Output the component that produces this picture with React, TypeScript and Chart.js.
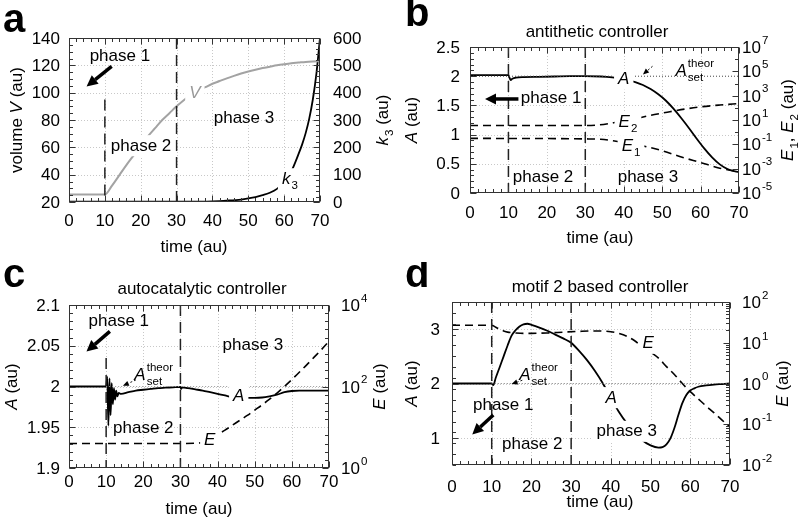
import React, { useEffect, useRef } from 'react';
import { Chart, registerables } from 'chart.js';

Chart.register(...registerables);

const FONT_FAMILY = '"Liberation Sans", Arial, Helvetica, sans-serif';
const FS = 17;

// ---------------- shared ----------------
const xTickValues = [0, 10, 20, 30, 40, 50, 60, 70];
const phaseTimes = [10, 30];

// ---------------- panel a ----------------
const aLeftTicks = [20, 40, 60, 80, 100, 120, 140];
const aRightTicks = [0, 100, 200, 300, 400, 500, 600];
const aTimeV = [0, 10, 12, 14, 16, 18, 20, 22, 24, 26, 28, 30, 32, 34, 36, 38, 40, 42, 44, 46, 48, 50, 52, 54, 56, 58, 60, 62, 64, 66, 68, 70];
const aVolume = [25.5, 25.5, 32, 39.5, 47, 54, 61, 68, 74, 80, 85, 90, 94.5, 98.5, 101.5, 104, 106.5, 108.5, 110.5, 112.3, 114, 115.5, 116.8, 118, 119, 120, 120.8, 121.5, 122, 122.5, 122.8, 123];
const aTimeK3 = [0, 10, 20, 30, 36, 40, 44, 48, 50, 52, 54, 56, 58, 60, 62, 64, 65, 66, 67, 68, 69, 70];
const aK3 = [1, 1, 1, 1, 1.5, 2.5, 5, 9, 13, 18, 25, 34, 48, 72, 112, 175, 210, 252, 305, 375, 470, 600];

// ---------------- panel b ----------------
const bLeftTicks = [0, 0.5, 1, 1.5, 2, 2.5];
const bRightExps = [-5, -3, -1, 1, 3, 5, 7];
const bTimeA = [0, 10, 10.3, 10.6, 11, 12, 14, 18, 22, 26, 30, 34, 37, 40, 43, 45, 47, 49, 51, 53, 55, 57, 59, 61, 63, 65, 67, 69, 70];
const bA = [2.02, 2.02, 1.97, 1.935, 1.955, 1.975, 1.985, 1.99, 1.995, 2.0, 2.0, 1.995, 1.98, 1.95, 1.9, 1.85, 1.78, 1.69, 1.58, 1.44, 1.28, 1.11, 0.93, 0.76, 0.61, 0.49, 0.41, 0.37, 0.36];
const bTimeE2 = [0, 30, 33, 36, 38, 40, 44, 48, 52, 56, 60, 65, 70];
const bE2 = [3.5, 3.5, 3.8, 5.0, 6.5, 8.5, 15, 28, 48, 80, 120, 170, 224];
const bTimeE1 = [0, 30, 34, 38, 42, 46, 50, 55, 60, 65, 70];
const bE1 = [0.31, 0.28, 0.26, 0.18, 0.11, 0.063, 0.03, 0.0091, 0.0032, 0.0011, 0.00054];
const bTimeSet = [0, 70];
const bSet = [2, 2];

// ---------------- panel c ----------------
const cLeftTicks = [1.9, 1.95, 2, 2.05, 2.1];
const cRightExps = [0, 2, 4];
const cTimeA = [0, 10, 10.3, 10.6, 10.9, 11.2, 11.5, 11.8, 12.1, 12.4, 12.7, 13, 13.4, 14, 16, 18, 20, 22, 24, 26, 28, 30, 30.2, 30.4, 32, 34, 36, 38, 40, 42, 44, 46, 48, 50, 52, 54, 56, 58, 60, 62, 66, 70];
const cA = [2.0, 2.0, 2.012, 1.952, 2.01, 1.965, 2.004, 1.978, 1.998, 1.984, 1.995, 1.988, 1.992, 1.991, 1.993, 1.995, 1.996, 1.997, 1.998, 1.9985, 1.999, 1.9995, 1.997, 1.999, 1.998, 1.9965, 1.995, 1.993, 1.991, 1.989, 1.987, 1.986, 1.986, 1.986, 1.9865, 1.988, 1.99, 1.993, 1.9945, 1.995, 1.995, 1.995];
const cTimeE = [0, 10, 30, 36, 38, 40, 42, 44, 46, 48, 50, 52, 54, 56, 58, 60, 62, 64, 66, 68, 70];
const cE = [4.0, 4.0, 4.0, 4.2, 4.8, 6.6, 8.5, 11.2, 14.8, 19.5, 26.3, 35.5, 49, 69, 100, 148, 224, 339, 525, 813, 1288];
const cTimeSet = [10, 70];
const cSet = [2, 2];

// ---------------- panel d ----------------
const dLeftTicks = [1, 2, 3];
const dRightExps = [-2, -1, 0, 1, 2];
const dTimeA = [0, 10, 10.4, 11, 12, 13, 14, 15, 16, 17, 18, 19, 20, 22, 24, 26, 28, 30, 32, 34, 36, 38, 40, 42, 44, 46, 48, 50, 52, 53, 54, 55, 56, 57, 58, 59, 60, 61, 62, 64, 66, 68, 70];
const dA = [2.0, 2.0, 1.97, 2.1, 2.3, 2.5, 2.7, 2.88, 2.98, 3.05, 3.09, 3.1, 3.08, 3.03, 2.97, 2.9, 2.83, 2.75, 2.6, 2.43, 2.23, 2.0, 1.73, 1.48, 1.27, 1.1, 0.95, 0.86, 0.82, 0.83, 0.88, 0.99, 1.18, 1.42, 1.64, 1.79, 1.87, 1.91, 1.94, 1.965, 1.98, 1.99, 2.0];
const dTimeE = [0, 10, 11, 12, 13, 14, 16, 18, 20, 24, 28, 32, 36, 40, 42, 44, 46, 48, 50, 52, 54, 56, 58, 60, 62, 64, 66, 68, 70];
const dE = [26.9, 26.9, 24, 21.4, 19.5, 18.2, 17.4, 17, 17, 17.4, 18.2, 19, 19.5, 18.6, 17, 14.5, 11.2, 7.9, 5.9, 4.2, 2.6, 1.66, 1.0, 0.63, 0.42, 0.28, 0.19, 0.126, 0.085];
const dTimeSet = [10, 70];
const dSet = [2, 2];

// ---------------- types & helpers ----------------
type Seg = { t: string; it?: boolean; sub?: boolean; sup?: boolean; stack?: boolean };
type Label = { x: number; y: number; segs: Seg[]; color?: string; bg?: boolean };
type Arrow = { x1: number; y1: number; x2: number; y2: number; thin?: boolean };
type AxisCfg = {
  type: 'linear' | 'logarithmic';
  min: number;
  max: number;
  ticks: number[];
  minor: number[];
  exps?: number[];
};
type PanelCfg = {
  id: string;
  left: number;
  top: number;
  w: number;
  h: number;
  area: { l: number; r: number; t: number; b: number };
  letter: { t: string; x: number; y: number };
  title?: { t: string; x: number; y: number };
  yL: AxisCfg;
  yR: AxisCfg;
  yLTitle: Seg[];
  yRTitle: Seg[];
  tpos: { lx: number; rx: number; xy: number; xx: number };
  toff: { x: number; l: number; r: number };
  phaseTops: number[];
  datasets: any[];
  labels: Label[];
  arrows: Arrow[];
};

function fnt(size: number, italic?: boolean, bold?: boolean) {
  return `${italic ? 'italic ' : ''}${bold ? 'bold ' : ''}${size}px ${FONT_FAMILY}`;
}

function linSteps(min: number, max: number, step: number) {
  const out: number[] = [];
  const n = Math.round((max - min) / step);
  for (let i = 0; i <= n; i++) out.push(min + i * step);
  return out;
}
function logDecades(e0: number, e1: number) {
  const out: number[] = [];
  for (let e = e0; e <= e1; e++) out.push(Math.pow(10, e));
  return out;
}
function logUniform(e0: number, e1: number, n: number) {
  const out: number[] = [];
  for (let e = e0; e < e1; e++) for (let j = 1; j < n; j++) out.push(Math.pow(10, e + j / n));
  return out;
}
function log29(e0: number, e1: number) {
  const out: number[] = [];
  for (let e = e0; e < e1; e++) for (let m = 2; m <= 9; m++) out.push(m * Math.pow(10, e));
  return out;
}

function layoutRich(ctx: CanvasRenderingContext2D, segs: Seg[], size: number) {
  const small = size * 0.68;
  let w = 0;
  let lastStart = 0;
  const items: { s: Seg; fs: number; sx: number }[] = [];
  for (const s of segs) {
    const fs = s.sub || s.sup ? small : size;
    ctx.font = fnt(fs, s.it);
    const mw = ctx.measureText(s.t).width;
    let sx: number;
    if (s.stack) {
      sx = lastStart;
      w = Math.max(w, lastStart + mw);
    } else {
      sx = w + (s.sub || s.sup ? 1 : 0);
      w = sx + mw;
    }
    lastStart = sx;
    items.push({ s, fs, sx });
  }
  return { w, items };
}

function drawRich(
  ctx: CanvasRenderingContext2D,
  segs: Seg[],
  x: number,
  y: number,
  size: number,
  align: 'left' | 'center' | 'right',
  color: string,
  bg?: boolean
) {
  const lay = layoutRich(ctx, segs, size);
  const x0 = align === 'left' ? x : align === 'right' ? x - lay.w : x - lay.w / 2;
  const base = y + size * 0.3;
  if (bg) {
    const hasSub = segs.some((s) => s.sub);
    ctx.fillStyle = '#fff';
    ctx.fillRect(x0 - 4, y - size * 0.62, lay.w + 8, size * 1.24 + (hasSub ? 3 : 0));
  }
  ctx.textAlign = 'left';
  ctx.textBaseline = 'alphabetic';
  ctx.fillStyle = color;
  for (const it of lay.items) {
    ctx.font = fnt(it.fs, it.s.it);
    let by = base;
    if (it.s.sub) by = base + size * 0.28;
    if (it.s.sup) by = base - size * 0.55;
    ctx.fillText(it.s.t, x0 + it.sx, by);
  }
  return lay.w;
}

function drawArrow(ctx: CanvasRenderingContext2D, x1: number, y1: number, x2: number, y2: number, thin?: boolean) {
  const ang = Math.atan2(y2 - y1, x2 - x1);
  const hl = thin ? 6 : 11;
  const hw = thin ? 2.6 : 5.5;
  const bx = x2 - hl * Math.cos(ang);
  const by = y2 - hl * Math.sin(ang);
  ctx.save();
  ctx.strokeStyle = '#000';
  ctx.fillStyle = '#000';
  ctx.lineWidth = thin ? 0.9 : 3.5;
  ctx.setLineDash(thin ? [2, 2] : []);
  ctx.beginPath();
  ctx.moveTo(x1, y1);
  ctx.lineTo(bx, by);
  ctx.stroke();
  ctx.setLineDash([]);
  ctx.beginPath();
  ctx.moveTo(x2, y2);
  ctx.lineTo(bx + hw * Math.sin(ang), by - hw * Math.cos(ang));
  ctx.lineTo(bx - hw * Math.sin(ang), by + hw * Math.cos(ang));
  ctx.closePath();
  ctx.fill();
  ctx.restore();
}

const pts = (xs: number[], ys: number[]) => xs.map((x, i) => ({ x, y: ys[i] }));

const solid = (xs: number[], ys: number[], axis: string, color = '#000', width = 1.8) => ({
  data: pts(xs, ys),
  borderColor: color,
  borderWidth: width,
  pointRadius: 0,
  fill: false,
  cubicInterpolationMode: 'monotone',
  yAxisID: axis,
});
const dashed = (xs: number[], ys: number[], axis: string) => ({
  ...solid(xs, ys, axis),
  borderWidth: 1.6,
  borderDash: [8, 5],
});
const dotted = (xs: number[], ys: number[], color: string) => ({
  data: pts(xs, ys),
  borderColor: color,
  borderWidth: 1,
  borderDash: [1, 2],
  pointRadius: 0,
  fill: false,
  yAxisID: 'y',
});

const setA: Seg[] = [{ t: 'A', it: true }, { t: 'theor', sup: true }, { t: 'set', sub: true, stack: true }];
const ph = (t: string): Seg[] => [{ t }];

// ---------------- panels ----------------
const panels: PanelCfg[] = [
  {
    id: 'a', left: 0, top: 0, w: 400, h: 262,
    area: { l: 69, r: 320, t: 38, b: 202 },
    letter: { t: 'a', x: 3, y: 32 },
    yL: { type: 'linear', min: 20, max: 140, ticks: aLeftTicks, minor: linSteps(20, 140, 5) },
    yR: { type: 'linear', min: 0, max: 600, ticks: aRightTicks, minor: linSteps(0, 600, 20) },
    yLTitle: [{ t: 'volume ' }, { t: 'V', it: true }, { t: ' (au)' }],
    yRTitle: [{ t: 'k', it: true }, { t: '3', sub: true }, { t: ' (au)' }],
    tpos: { lx: 17, rx: 383, xy: 247, xx: 194 },
    toff: { x: 19, l: 9, r: 13 },
    phaseTops: [95, 140],
    datasets: [solid(aTimeV, aVolume, 'y', '#a3a3a3', 2), solid(aTimeK3, aK3, 'y2')],
    labels: [
      { x: 14.2, y: 127, segs: ph('phase 1') },
      { x: 20.1, y: 61.2, segs: ph('phase 2'), bg: true },
      { x: 48.8, y: 81.7, segs: ph('phase 3') },
      { x: 35.1, y: 99.6, segs: [{ t: 'V', it: true }], color: '#999', bg: true },
      { x: 61.6, y: 37, segs: [{ t: 'k', it: true }, { t: '3', sub: true }], bg: true },
    ],
    arrows: [{ x1: 11.9, y1: 119.2, x2: 4.9, y2: 104.6 }],
  },
  {
    id: 'b', left: 400, top: 0, w: 400, h: 262,
    area: { l: 70, r: 339, t: 47, b: 193 },
    letter: { t: 'b', x: 5, y: 26 },
    title: { t: 'antithetic controller', x: 197, y: 32 },
    yL: { type: 'linear', min: 0, max: 2.5, ticks: bLeftTicks, minor: linSteps(0, 2.5, 0.1) },
    yR: { type: 'logarithmic', min: 1e-5, max: 1e7, ticks: bRightExps.map((e) => Math.pow(10, e)), exps: bRightExps, minor: logDecades(-5, 7) },
    yLTitle: [{ t: 'A', it: true }, { t: ' (au)' }],
    yRTitle: [{ t: 'E', it: true }, { t: '1', sub: true }, { t: ', ' }, { t: 'E', it: true }, { t: '2', sub: true }, { t: ' (au)' }],
    tpos: { lx: 12, rx: 388, xy: 238, xx: 200 },
    toff: { x: 20, l: 10, r: 3 },
    phaseTops: [2.5, 2.5],
    datasets: [dotted(bTimeSet, bSet, '#555'), dashed(bTimeE2, bE2, 'y2'), dashed(bTimeE1, bE1, 'y2'), solid(bTimeA, bA, 'y')],
    labels: [
      { x: 21.1, y: 1.62, segs: ph('phase 1') },
      { x: 19.0, y: 0.28, segs: ph('phase 2') },
      { x: 46.3, y: 0.28, segs: ph('phase 3') },
      { x: 40, y: 1.95, segs: [{ t: 'A', it: true }], bg: true },
      { x: 41.1, y: 1.21, segs: [{ t: 'E', it: true }, { t: '2', sub: true }], bg: true },
      { x: 41.9, y: 0.8, segs: [{ t: 'E', it: true }, { t: '1', sub: true }], bg: true },
      { x: 58.5, y: 2.09, segs: setA },
    ],
    arrows: [
      { x1: 12.6, y1: 1.61, x2: 3.9, y2: 1.61 },
      { x1: 47.5, y1: 2.17, x2: 45, y2: 2.03, thin: true },
    ],
  },
  {
    id: 'c', left: 0, top: 262, w: 400, h: 263,
    area: { l: 69, r: 329, t: 43, b: 206 },
    letter: { t: 'c', x: 3, y: 25 },
    title: { t: 'autocatalytic controller', x: 202, y: 27 },
    yL: { type: 'linear', min: 1.9, max: 2.1, ticks: cLeftTicks, minor: linSteps(1.9, 2.1, 0.01) },
    yR: { type: 'logarithmic', min: 1, max: 1e4, ticks: cRightExps.map((e) => Math.pow(10, e)), exps: cRightExps, minor: logUniform(0, 4, 5) },
    yLTitle: [{ t: 'A', it: true }, { t: ' (au)' }],
    yRTitle: [{ t: 'E', it: true }, { t: ' (au)' }],
    tpos: { lx: 12, rx: 380, xy: 247, xx: 199 },
    toff: { x: 14, l: 9, r: 12 },
    phaseTops: [2.035, 2.1],
    datasets: [dotted(cTimeSet, cSet, '#999'), dashed(cTimeE, cE, 'y2'), solid(cTimeA, cA, 'y')],
    labels: [
      { x: 13.4, y: 2.08, segs: ph('phase 1') },
      { x: 20.0, y: 1.949, segs: ph('phase 2') },
      { x: 49.5, y: 2.051, segs: ph('phase 3') },
      { x: 45.7, y: 1.988, segs: [{ t: 'A', it: true }], bg: true },
      { x: 37.9, y: 1.934, segs: [{ t: 'E', it: true }], bg: true },
      { x: 22.8, y: 2.014, segs: setA },
    ],
    arrows: [
      { x1: 11.0, y1: 2.0676, x2: 4.7, y2: 2.043 },
      { x1: 18.0, y1: 2.008, x2: 14.5, y2: 2.001, thin: true },
    ],
  },
  {
    id: 'd', left: 400, top: 262, w: 400, h: 263,
    area: { l: 52, r: 330, t: 40, b: 203 },
    letter: { t: 'd', x: 5, y: 25 },
    title: { t: 'motif 2 based controller', x: 200, y: 25 },
    yL: { type: 'linear', min: 0.5, max: 3.5, ticks: dLeftTicks, minor: linSteps(0.5, 3.5, 0.2) },
    yR: { type: 'logarithmic', min: 0.01, max: 100, ticks: dRightExps.map((e) => Math.pow(10, e)), exps: dRightExps, minor: log29(-2, 2) },
    yLTitle: [{ t: 'A', it: true }, { t: ' (au)' }],
    yRTitle: [{ t: 'E', it: true }, { t: ' (au)' }],
    tpos: { lx: 12, rx: 383, xy: 240, xx: 200 },
    toff: { x: 22, l: 12, r: 12 },
    phaseTops: [3.5, 3.5],
    datasets: [dotted(dTimeSet, dSet, '#777'), dashed(dTimeE, dE, 'y2'), solid(dTimeA, dA, 'y')],
    labels: [
      { x: 12.9, y: 1.61, segs: ph('phase 1') },
      { x: 20.2, y: 0.89, segs: ph('phase 2') },
      { x: 44.0, y: 1.12, segs: ph('phase 3'), bg: true },
      { x: 40.1, y: 1.74, segs: [{ t: 'A', it: true }], bg: true },
      { x: 49.4, y: 2.74, segs: [{ t: 'E', it: true }], bg: true },
      { x: 21.8, y: 2.15, segs: setA },
    ],
    arrows: [
      { x1: 10.4, y1: 1.42, x2: 5.1, y2: 1.06 },
      { x1: 17.7, y1: 2.06, x2: 15, y2: 1.99, thin: true },
    ],
  },
];

function makeDeco(cfg: PanelCfg) {
  return {
    id: 'deco' + cfg.id,
    beforeDatasetsDraw(chart: any) {
      const { ctx, chartArea: a, scales } = chart;
      ctx.save();
      ctx.strokeStyle = '#c8c8c8';
      ctx.lineWidth = 1;
      ctx.setLineDash([1, 2]);
      ctx.beginPath();
      for (const v of xTickValues) {
        if (v <= 0 || v >= 70) continue;
        const px = Math.round(scales.x.getPixelForValue(v)) + 0.5;
        ctx.moveTo(px, a.top);
        ctx.lineTo(px, a.bottom);
      }
      for (const v of cfg.yL.ticks) {
        if (v <= cfg.yL.min + 1e-9 || v >= cfg.yL.max - 1e-9) continue;
        const py = Math.round(scales.y.getPixelForValue(v)) + 0.5;
        ctx.moveTo(a.left, py);
        ctx.lineTo(a.right, py);
      }
      ctx.stroke();
      ctx.restore();
    },
    afterDatasetsDraw(chart: any) {
      const { ctx, scales } = chart;
      const X = (v: number) => scales.x.getPixelForValue(v);
      const Y = (v: number) => scales.y.getPixelForValue(v);
      ctx.save();
      for (const lb of cfg.labels) {
        drawRich(ctx, lb.segs, X(lb.x), Y(lb.y), FS, 'center', lb.color || '#000', lb.bg);
      }
      for (const ar of cfg.arrows) drawArrow(ctx, X(ar.x1), Y(ar.y1), X(ar.x2), Y(ar.y2), ar.thin);
      ctx.restore();
    },
    afterDraw(chart: any) {
      const { ctx, chartArea: a, scales } = chart;
      const L = Math.round(a.left) + 0.5;
      const R = Math.round(a.right) - 0.5;
      const T = Math.round(a.top) + 0.5;
      const B = Math.round(a.bottom) - 0.5;
      ctx.save();
      ctx.strokeStyle = '#333';
      ctx.lineWidth = 1;
      ctx.setLineDash([]);
      ctx.strokeRect(L, T, R - L, B - T);
      // ticks
      ctx.beginPath();
      const xMinor = linSteps(0, 70, 2);
      for (const v of xMinor) {
        const px = Math.round(scales.x.getPixelForValue(v)) + 0.5;
        const len = v % 10 === 0 ? 6 : 3.5;
        ctx.moveTo(px, B);
        ctx.lineTo(px, B - len);
        ctx.moveTo(px, T);
        ctx.lineTo(px, T + len);
      }
      const tickY = (scale: any, vals: number[], len: number, side: 'l' | 'r') => {
        for (const v of vals) {
          if (v < scale.min * 0.999999 || v > scale.max * 1.000001 + 1e-12) continue;
          const py = Math.round(scale.getPixelForValue(v)) + 0.5;
          if (side === 'l') {
            ctx.moveTo(L, py);
            ctx.lineTo(L + len, py);
          } else {
            ctx.moveTo(R, py);
            ctx.lineTo(R - len, py);
          }
        }
      };
      tickY(scales.y, cfg.yL.minor, 3.5, 'l');
      tickY(scales.y, cfg.yL.ticks, 6, 'l');
      tickY(scales.y2, cfg.yR.minor, 3.5, 'r');
      tickY(scales.y2, cfg.yR.ticks, 6, 'r');
      ctx.stroke();

      // tick labels
      ctx.fillStyle = '#000';
      ctx.font = fnt(FS);
      ctx.textBaseline = 'middle';
      ctx.textAlign = 'center';
      for (const v of xTickValues) ctx.fillText(String(v), scales.x.getPixelForValue(v), a.bottom + cfg.toff.x);
      ctx.textAlign = 'right';
      for (const v of cfg.yL.ticks) ctx.fillText(String(v), a.left - cfg.toff.l, scales.y.getPixelForValue(v) + 1);
      if (cfg.yR.exps) {
        cfg.yR.ticks.forEach((v, i) => {
          const py = scales.y2.getPixelForValue(v);
          drawRich(ctx, [{ t: '10' }, { t: String(cfg.yR.exps![i]), sup: true }], a.right + cfg.toff.r, py + 1, FS, 'left', '#000');
        });
      } else {
        ctx.textAlign = 'left';
        ctx.textBaseline = 'middle';
        ctx.font = fnt(FS);
        for (const v of cfg.yR.ticks) ctx.fillText(String(v), a.right + cfg.toff.r, scales.y2.getPixelForValue(v) + 1);
      }

      // axis titles
      const cy = (a.top + a.bottom) / 2;
      drawRich(ctx, [{ t: 'time (au)' }], cfg.tpos.xx, cfg.tpos.xy, FS, 'center', '#000');
      ctx.save();
      ctx.translate(cfg.tpos.lx, cy);
      ctx.rotate(-Math.PI / 2);
      drawRich(ctx, cfg.yLTitle, 0, 0, FS, 'center', '#000');
      ctx.restore();
      ctx.save();
      ctx.translate(cfg.tpos.rx, cy);
      ctx.rotate(-Math.PI / 2);
      drawRich(ctx, cfg.yRTitle, 0, 0, FS, 'center', '#000');
      ctx.restore();

      // title and letter
      if (cfg.title) drawRich(ctx, [{ t: cfg.title.t }], cfg.title.x, cfg.title.y, FS, 'center', '#000');
      ctx.font = fnt(40, false, true);
      ctx.textAlign = 'left';
      ctx.textBaseline = 'alphabetic';
      ctx.fillStyle = '#000';
      ctx.fillText(cfg.letter.t, cfg.letter.x, cfg.letter.y);
      ctx.restore();
    },
  };
}

function Panel({ cfg }: { cfg: PanelCfg }) {
  const ref = useRef<HTMLCanvasElement | null>(null);
  useEffect(() => {
    if (!ref.current) return;
    const phaseSets = phaseTimes.map((t, i) => ({
      data: [
        { x: t, y: cfg.phaseTops[i] },
        { x: t, y: cfg.yL.min },
      ],
      borderColor: '#222',
      borderWidth: 1.5,
      borderDash: [11, 6],
      pointRadius: 0,
      fill: false,
      yAxisID: 'y',
    }));
    const hidden = { display: false };
    const chart = new Chart(ref.current, {
      type: 'line',
      data: { datasets: [...phaseSets, ...cfg.datasets] as any },
      options: {
        responsive: false,
        animation: false,
        events: [],
        layout: { padding: { top: cfg.area.t, left: 0, right: 0, bottom: 0 } },
        plugins: { legend: { display: false }, tooltip: { enabled: false } },
        scales: {
          x: {
            type: 'linear', min: 0, max: 70,
            ticks: { display: false }, grid: hidden, border: hidden,
            afterFit: (s: any) => { s.height = cfg.h - cfg.area.b; },
          },
          y: {
            type: 'linear', position: 'left', min: cfg.yL.min, max: cfg.yL.max,
            ticks: { display: false }, grid: hidden, border: hidden,
            afterFit: (s: any) => { s.width = cfg.area.l; },
          },
          y2: {
            type: cfg.yR.type, position: 'right', min: cfg.yR.min, max: cfg.yR.max,
            ticks: { display: false }, grid: hidden, border: hidden,
            afterFit: (s: any) => { s.width = cfg.w - cfg.area.r; },
          },
        } as any,
      },
      plugins: [makeDeco(cfg)],
    });
    return () => chart.destroy();
  }, [cfg]);
  return (
    <canvas
      ref={ref}
      width={cfg.w}
      height={cfg.h}
      style={{ position: 'absolute', left: cfg.left, top: cfg.top, width: cfg.w, height: cfg.h, display: 'block' }}
    />
  );
}

export default function App() {
  return (
    <div style={{ position: 'absolute', left: 0, top: 0, width: 800, height: 525, background: '#fff', overflow: 'hidden' }}>
      {panels.map((p) => (
        <Panel key={p.id} cfg={p} />
      ))}
    </div>
  );
}
